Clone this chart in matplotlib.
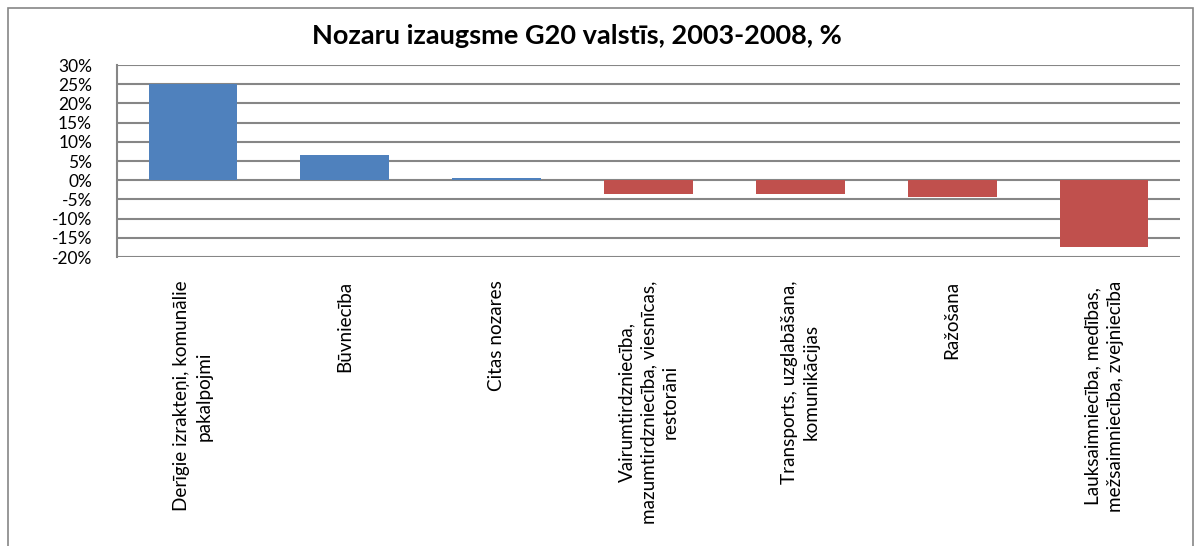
import numpy as np
import matplotlib.pyplot as plt
from matplotlib.patches import Rectangle

nozares = [
    "Derīgie izrakteņi, komunālie\npakalpojmi",
    "Būvniecība",
    "Citas nozares",
    "Vairumtirdzniecība,\nmazumtirdzniecība, viesnīcas,\nrestorāni",
    "Transports, uzglabāšana,\nkomunikācijas",
    "Ražošana",
    "Lauksaimniecība, medības,\nmežsaimniecība, zvejniecība",
]
izaugsme = [25.0, 6.6, 0.6, -3.5, -3.5, -4.4, -17.4]
y_ticks = [30, 25, 20, 15, 10, 5, 0, -5, -10, -15, -20]

zils = "#4F81BD"
sarkans = "#C0504D"
krasas = [zils if v >= 0 else sarkans for v in izaugsme]

fig = plt.figure(figsize=(12.01, 5.46), dpi=100)
ax = fig.add_axes([117 / 1201, 1 - 257 / 546, (1180 - 117) / 1201, (257 - 65) / 546])

x = np.arange(len(nozares))
ax.bar(x, izaugsme, width=0.585, color=krasas, zorder=3)

ax.set_xlim(-0.5, len(nozares) - 0.5)
ax.set_ylim(-20, 30)
ax.set_yticks(y_ticks)
ax.set_yticklabels([f"{t}%" for t in y_ticks], fontsize=12.5, family="Lato")
ax.yaxis.grid(True, color="#868686", linewidth=1.5, zorder=1)
ax.tick_params(axis="y", length=0, pad=18)

ax.set_xticks(x)
ax.set_xticklabels(nozares, rotation=90, fontsize=13.6, family="Lato",
                   ha="center", va="top", multialignment="center", linespacing=1.35)
ax.tick_params(axis="x", length=0, pad=17)

for s in ["top", "right", "bottom"]:
    ax.spines[s].set_visible(False)
ax.spines["left"].set_color("#868686")
ax.spines["left"].set_linewidth(1.5)

fig.text(577 / 1201, 1 - 36 / 546, "Nozaru izaugsme G20 valstīs, 2003-2008, %",
         ha="center", va="center", fontsize=19.5, fontweight="bold", family="Lato")

fig.patches.append(Rectangle((8 / 1201, -0.05), (1193 - 8) / 1201, 1.05 - 8 / 546,
                             transform=fig.transFigure, fill=False,
                             edgecolor="#868686", linewidth=1.2))

fig.savefig("out.png", dpi=100)
